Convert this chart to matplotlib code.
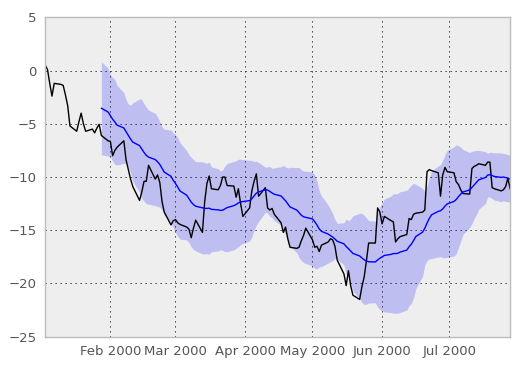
import pandas as pd
import matplotlib
matplotlib.use("Agg")
import matplotlib.pyplot as plt
import matplotlib.dates as mdates

####### DATA BLOCK #######

# business days, Jan 3 2000 .. Jul 28 2000 (150 days)
start_date = "2000-01-03"
n_days = 150

walk = [
    0.5, 0.1, -1.2, -2.4, -1.2,
    -1.3, -1.4, -2.3, -3.3, -5.2,
    -5.7, -4.8, -4.0, -5.0, -5.7,
    -5.5, -5.85, -5.4, -5.05, -6.1,
    -6.6, -6.65, -8.0, -7.5, -7.2,
    -6.6, -8.4, -9.3, -10.2, -10.9,
    -12.2, -11.4, -10.4, -10.4, -8.9,
    -10.2, -9.8, -10.5, -12.3, -13.3,
    -14.5, -14.1, -14.0, -14.3, -14.45,
    -14.7, -14.9, -15.7, -14.8, -14.05,
    -15.2, -12.3, -10.6, -9.9, -11.1,
    -11.2, -10.8, -10.0, -10.0, -10.8,
    -10.85, -11.9, -11.1, -12.5, -13.7,
    -12.9, -11.3, -10.4, -9.7, -11.8,
    -11.0, -12.9, -13.1, -12.95, -13.5,
    -14.3, -15.2, -14.7, -15.8, -16.6,
    -16.7, -16.6, -16.0, -15.5, -14.8,
    -15.9, -16.6, -16.5, -17.0, -16.4,
    -16.1, -15.8, -15.9, -16.5, -17.8,
    -19.1, -20.2, -18.8, -20.2, -21.1,
    -21.5, -20.3, -19.4, -17.9, -16.2,
    -16.2, -12.9, -13.3, -14.4, -13.7,
    -14.1, -14.2, -16.1, -15.8, -15.6,
    -15.4, -13.9, -14.0, -13.5, -13.4,
    -13.3, -13.1, -9.5, -9.3, -9.4,
    -9.6, -11.8, -9.8, -9.1, -9.5,
    -9.6, -10.45, -10.7, -11.2, -11.55,
    -11.6, -9.2, -9.0, -8.9, -8.75,
    -8.9, -8.6, -8.6, -11.0, -11.1,
    -11.3, -11.2, -10.9, -10.1, -11.1,
]

window = 20
y_ticks = [-25, -20, -15, -10, -5, 0, 5]

####### PLOT BLOCK #######

def make_series():
    dates = pd.bdate_range(start_date, periods=n_days)
    return pd.Series(walk, index=dates)

def plot_rolling(ts):
    mean = ts.rolling(window).mean()
    std = ts.rolling(window).std()
    mean = mean.dropna()
    std = std.dropna()

    fig = plt.figure(figsize=(5.2, 3.69), dpi=100)
    ax = fig.add_axes([0.087, 0.0875, 0.894, 0.8655])
    ax.set_facecolor("#eeeeee")
    for sp in ax.spines.values():
        sp.set_color("#bcbcbc")
        sp.set_linewidth(1.0)

    ax.plot(ts.index, ts.values, color="k", linewidth=1.0)
    ax.plot(mean.index, mean.values, color="b", linewidth=1.0)
    ax.fill_between(mean.index, mean - 2 * std, mean + 2 * std,
                    color="b", alpha=0.2, linewidth=0)

    ax.set_xlim(ts.index[0], ts.index[-1])
    ax.set_ylim(-25, 5)
    ax.set_yticks(y_ticks)
    ax.xaxis.set_major_locator(mdates.MonthLocator())
    ax.xaxis.set_major_formatter(mdates.DateFormatter("%b %Y"))

    ax.tick_params(length=0, colors="#555555", labelsize=9.5, pad=6)
    ax.grid(True, color="k", linestyle=(0, (1.5, 4.5)), linewidth=0.6)
    ax.set_axisbelow(True)

    fig.savefig("out.png", dpi=100)

def main():
    ts = make_series()
    plot_rolling(ts)

if __name__ == '__main__':
    main()
